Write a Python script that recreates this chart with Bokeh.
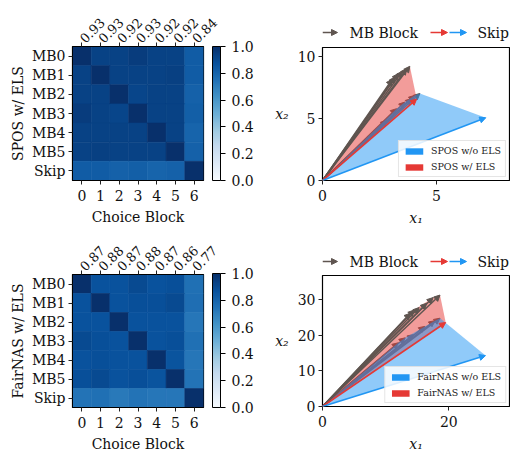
import math
from bokeh.plotting import figure
from bokeh.models import (Range1d, FixedTicker, LinearAxis, ColorBar, LinearColorMapper,
                          PrintfTickFormatter, ColumnDataSource, Arrow, NormalHead,
                          Legend, LegendItem)
from bokeh.layouts import row, column
from bokeh.palettes import Blues256
from bokeh.core.properties import value
from bokeh.embed import file_html
from bokeh.resources import INLINE

# ---------------- data ----------------
blocks = ["MB0", "MB1", "MB2", "MB3", "MB4", "MB5", "Skip"]
choices = ["0", "1", "2", "3", "4", "5", "6"]
cbar_ticks = [0.0, 0.2, 0.4, 0.6, 0.8, 1.0]

spos_sim = [
    [1.00, 0.93, 0.93, 0.95, 0.93, 0.93, 0.83],
    [0.93, 1.00, 0.93, 0.93, 0.93, 0.94, 0.83],
    [0.93, 0.93, 1.00, 0.92, 0.93, 0.93, 0.81],
    [0.95, 0.93, 0.92, 1.00, 0.93, 0.93, 0.82],
    [0.93, 0.93, 0.93, 0.93, 1.00, 0.93, 0.80],
    [0.93, 0.94, 0.93, 0.93, 0.93, 1.00, 0.81],
    [0.83, 0.83, 0.81, 0.82, 0.80, 0.81, 1.00],
]
spos_means = ["0.93", "0.93", "0.92", "0.93", "0.92", "0.92", "0.84"]

fair_sim = [
    [1.00, 0.87, 0.87, 0.90, 0.87, 0.88, 0.75],
    [0.87, 1.00, 0.87, 0.88, 0.88, 0.90, 0.76],
    [0.87, 0.87, 1.00, 0.87, 0.87, 0.87, 0.73],
    [0.90, 0.88, 0.87, 1.00, 0.87, 0.88, 0.75],
    [0.87, 0.88, 0.87, 0.87, 1.00, 0.86, 0.73],
    [0.88, 0.90, 0.87, 0.88, 0.86, 1.00, 0.74],
    [0.74, 0.75, 0.72, 0.74, 0.73, 0.73, 1.00],
]
fair_means = ["0.87", "0.88", "0.87", "0.88", "0.87", "0.86", "0.77"]

# SPOS vectors
spos_mb_els_x = [3.83, 3.69, 3.50, 3.32, 3.18, 3.06]
spos_mb_els_y = [9.19, 9.00, 8.79, 8.60, 8.33, 8.15]
spos_mb_wo_x = [4.27, 4.05, 3.91, 3.62, 3.25, 2.82]
spos_mb_wo_y = [7.00, 6.85, 6.59, 6.31, 5.78, 4.84]
spos_skip_els = [4.13, 6.55]
spos_skip_wo = [7.16, 5.05]
spos_xticks = [0, 5]
spos_yticks = [0, 5, 10]

# FairNAS vectors
fair_mb_els_x = [18.6, 17.5, 16.5, 15.3, 14.5, 13.9]
fair_mb_els_y = [31.3, 30.6, 29.0, 27.8, 27.1, 26.2]
fair_mb_wo_x = [18.6, 17.8, 16.2, 14.4, 13.1, 12.0]
fair_mb_wo_y = [24.8, 24.1, 22.5, 20.2, 19.3, 17.9]
fair_skip_els = [19.5, 23.6]
fair_skip_wo = [25.8, 14.3]
fair_xticks = [0, 20]
fair_yticks = [0, 10, 20, 30]

legend_labels = ["MB Block", "Skip"]

# ---------------- style ----------------
FONT = "DejaVu Serif"
FS = "14px"
GREY = "#5f5550"
RED = "#E53935"
BLUE = "#2196F3"
NAN = float("nan")

mapper = LinearColorMapper(palette=list(reversed(Blues256)), low=0.0, high=1.0)


def style_axis(ax, label_standoff=3):
    ax.major_label_text_font = FONT
    ax.major_label_text_font_size = FS
    ax.major_label_text_color = "#111111"
    ax.axis_label_text_font = FONT
    ax.axis_label_text_font_size = FS
    ax.axis_label_text_font_style = "normal"
    ax.axis_label_text_color = "#111111"
    ax.major_tick_in = 0
    ax.major_tick_out = 4
    ax.minor_tick_in = 0
    ax.minor_tick_out = 0
    ax.axis_line_color = "black"
    ax.major_tick_line_color = "#222222"
    ax.major_label_standoff = label_standoff
    ax.axis_label_standoff = 3


def heatmap(sim, means, ylabel, height, top_b, bottom_b):
    fw, fh = 131, height - top_b - bottom_b
    p = figure(width=258, height=height, x_range=Range1d(-0.5, 6.5), y_range=Range1d(6.5, -0.5),
               output_backend="svg", toolbar_location=None,
               min_border_left=72, min_border_right=258 - 72 - fw,
               min_border_top=top_b, min_border_bottom=bottom_b)
    xs, ys, vs = [], [], []
    for i, r in enumerate(sim):
        for j, v in enumerate(r):
            xs.append(j)
            ys.append(i)
            vs.append(v)
    src = ColumnDataSource(dict(x=xs, y=ys, v=vs))
    p.rect("x", "y", width=1, height=1, source=src,
           fill_color={"field": "v", "transform": mapper},
           line_color={"field": "v", "transform": mapper}, line_width=0.6)
    p.grid.visible = False
    p.outline_line_color = "black"
    p.outline_line_width = 1.2
    p.xaxis.ticker = FixedTicker(ticks=list(range(len(choices))))
    p.xaxis.major_label_overrides = {i: c for i, c in enumerate(choices)}
    p.xaxis.axis_label = "Choice Block"
    p.yaxis.ticker = FixedTicker(ticks=list(range(len(blocks))))
    p.yaxis.major_label_overrides = {i: b for i, b in enumerate(blocks)}
    p.yaxis.axis_label = ylabel
    top = LinearAxis(ticker=FixedTicker(ticks=list(range(len(means)))),
                     major_label_overrides={i: m for i, m in enumerate(means)},
                     major_label_orientation=math.pi / 4)
    p.add_layout(top, "above")
    for ax in p.axis:
        style_axis(ax)
    p.xaxis.major_label_standoff = 5
    p.xaxis.axis_label_standoff = 5
    top.major_label_text_font_size = "13px"
    top.major_label_standoff = 2
    cb = ColorBar(color_mapper=mapper, ticker=FixedTicker(ticks=cbar_ticks),
                  formatter=PrintfTickFormatter(format="%.1f"),
                  location=(fw + 9, 0), width=8, height=fh, padding=0, margin=0,
                  bar_line_color="black",
                  major_tick_line_color="black", major_tick_in=0, major_tick_out=5,
                  minor_tick_line_color=None, label_standoff=6,
                  major_label_text_font=FONT, major_label_text_font_size=FS,
                  major_label_text_color="#111111",
                  background_fill_alpha=0, border_line_color=None)
    p.add_layout(cb)
    return p


def hull(points):
    pts = sorted(set(points))

    def cross(o, a, b):
        return (a[0] - o[0]) * (b[1] - o[1]) - (a[1] - o[1]) * (b[0] - o[0])

    lower, upper = [], []
    for q in pts:
        while len(lower) >= 2 and cross(lower[-2], lower[-1], q) <= 0:
            lower.pop()
        lower.append(q)
    for q in reversed(pts):
        while len(upper) >= 2 and cross(upper[-2], upper[-1], q) <= 0:
            upper.pop()
        upper.append(q)
    return lower[:-1] + upper[:-1]


def arrows(p, xs, ys, color, width, level="annotation", head=6):
    src = ColumnDataSource(dict(x0=[0.0] * len(xs), y0=[0.0] * len(xs), x1=xs, y1=ys))
    a = Arrow(x_start="x0", y_start="y0", x_end="x1", y_end="y1", source=src,
              line_color=color, line_width=width,
              end=NormalHead(size=head, fill_color=color, line_color=color, line_width=1),
              level=level)
    p.add_layout(a)


FRAME_W = 187


def vector_plot(name, mb_els_x, mb_els_y, mb_wo_x, mb_wo_y, skip_els, skip_wo,
                xmax, ymax, xticks, yticks, height, top_b, bottom_b):
    p = figure(width=252, height=height, x_range=Range1d(0, xmax), y_range=Range1d(0, ymax),
               output_backend="svg", toolbar_location=None,
               min_border_left=252 - FRAME_W - 1, min_border_right=1,
               min_border_top=top_b, min_border_bottom=bottom_b)
    p.grid.visible = False
    p.outline_line_color = "black"
    p.outline_line_width = 1.2
    p.xaxis.ticker = FixedTicker(ticks=xticks)
    p.yaxis.ticker = FixedTicker(ticks=yticks)
    p.xaxis.axis_label = "x\u2081"
    p.yaxis.axis_label = "x\u2082"
    for ax in p.axis:
        style_axis(ax)
        ax.axis_label_text_font_style = "italic"
    p.xaxis.major_label_standoff = 5
    p.xaxis.axis_label_standoff = 6
    p.yaxis.axis_label_orientation = "horizontal"
    p.yaxis.axis_label_standoff = 6

    # MB arrows without ELS (under the shading)
    arrows(p, mb_wo_x, mb_wo_y, GREY, 1.5, level="underlay")
    els_pts = [(0.0, 0.0)] + list(zip(mb_els_x, mb_els_y)) + [tuple(skip_els)]
    wo_pts = [(0.0, 0.0)] + list(zip(mb_wo_x, mb_wo_y)) + [tuple(skip_wo)]
    he = hull(els_pts)
    hw = hull(wo_pts)
    p.patch([q[0] for q in he], [q[1] for q in he], fill_color=RED, fill_alpha=0.5, line_color=None)
    p.patch([q[0] for q in hw], [q[1] for q in hw], fill_color=BLUE, fill_alpha=0.5, line_color=None)
    arrows(p, mb_els_x, mb_els_y, GREY, 1.5)
    arrows(p, [skip_els[0]], [skip_els[1]], RED, 1.6)
    arrows(p, [skip_wo[0]], [skip_wo[1]], BLUE, 1.6)

    # legend swatches (solid colours, no visible data)
    rb = p.quad(left=[NAN], right=[NAN], top=[NAN], bottom=[NAN], fill_color=BLUE, line_color=None)
    rr = p.quad(left=[NAN], right=[NAN], top=[NAN], bottom=[NAN], fill_color=RED, line_color=None)
    leg = Legend(items=[LegendItem(label=name + " w/o ELS", renderers=[rb]),
                        LegendItem(label=name + " w/ ELS", renderers=[rr])],
                 location="bottom_right", label_text_font=FONT, label_text_font_size="9.5px",
                 label_text_color="#222222",
                 glyph_width=22, glyph_height=8, label_height=9, label_standoff=6,
                 padding=4, spacing=5, margin=3, border_line_color="#cccccc",
                 background_fill_alpha=0.85)
    p.add_layout(leg)
    return p


def arrow_legend(height, yc):
    # this figure's frame is aligned with the frame of the plot below it,
    # so its x range is measured in pixels from that frame's left edge
    p = figure(width=252, height=height, x_range=Range1d(0, FRAME_W), y_range=Range1d(0, height),
               output_backend="svg", toolbar_location=None,
               min_border_left=0, min_border_right=0, min_border_top=0, min_border_bottom=0,
               x_axis_location=None, y_axis_location=None)
    p.grid.visible = False
    p.outline_line_color = None
    for x0, x1, c in [(0, 15, GREY), (108, 125, RED), (127, 144, BLUE)]:
        p.add_layout(Arrow(x_start=x0, y_start=yc, x_end=x1, y_end=yc, line_color=c, line_width=1.5,
                           end=NormalHead(size=6, fill_color=c, line_color=c, line_width=1)))
    p.text(x=[27, 155], y=[yc, yc], text=legend_labels, text_baseline="middle",
           text_font=value(FONT), text_font_size=FS, text_color="#111111")
    return p


h1 = heatmap(spos_sim, spos_means, "SPOS w/ ELS", 228, 46, 48)
h2 = heatmap(fair_sim, fair_means, "FairNAS w/ ELS", 226, 46, 46)
l1 = arrow_legend(44, 12)
v1 = vector_plot("SPOS", spos_mb_els_x, spos_mb_els_y, spos_mb_wo_x, spos_mb_wo_y,
                 spos_skip_els, spos_skip_wo, 8.2, 10.7, spos_xticks, spos_yticks, 184, 3, 48)
l2 = arrow_legend(42, 9)
v2 = vector_plot("FairNAS", fair_mb_els_x, fair_mb_els_y, fair_mb_wo_x, fair_mb_wo_y,
                 fair_skip_els, fair_skip_wo, 29.6, 36.8, fair_xticks, fair_yticks, 184, 5, 46)

layout = row(column(h1, h2), column(l1, v1, l2, v2))
open("out.html", "w").write(file_html(layout, INLINE))
